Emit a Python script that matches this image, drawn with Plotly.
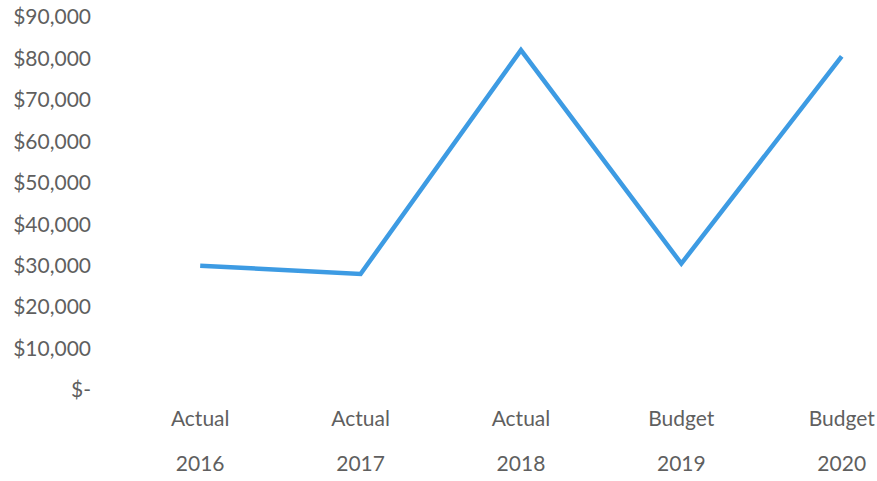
import plotly.graph_objects as go

# Budget vs actual totals by year
scenarios = ["Actual", "Actual", "Actual", "Budget", "Budget"]
years = ["2016", "2017", "2018", "2019", "2020"]
amounts = [30000, 28000, 82000, 30500, 80500]

y_ticks = [0, 10000, 20000, 30000, 40000, 50000, 60000, 70000, 80000, 90000]
y_tick_labels = ["$-", "$10,000", "$20,000", "$30,000", "$40,000",
                 "$50,000", "$60,000", "$70,000", "$80,000", "$90,000"]

positions = list(range(len(years)))
text_color = "#5f5f5f"
label_font = dict(family="Lato, Carlito, sans-serif", size=21, color=text_color)

fig = go.Figure()
fig.add_trace(go.Scatter(
    x=positions, y=amounts, mode="lines",
    line=dict(color="#3D9BE3", width=4.5),
    hoverinfo="y", showlegend=False,
))
# carrier trace for the second (year) label row
fig.add_trace(go.Scatter(
    x=positions, y=amounts, mode="lines", xaxis="x2",
    line=dict(width=0), hoverinfo="skip", showlegend=False,
))

fig.update_layout(
    width=877, height=481,
    margin=dict(l=120, r=0, t=17, b=91),
    paper_bgcolor="white", plot_bgcolor="white",
    xaxis=dict(
        range=[-0.5, 4.22], tickvals=positions, ticktext=scenarios,
        showgrid=False, zeroline=False, showline=False, ticks="",
        tickfont=label_font, ticklabelstandoff=14,
    ),
    xaxis2=dict(
        range=[-0.5, 4.22], tickvals=positions, ticktext=years,
        overlaying="x", side="bottom", anchor="y",
        showgrid=False, zeroline=False, showline=False, ticks="",
        tickfont=label_font, ticklabelstandoff=59,
    ),
    yaxis=dict(
        range=[0, 90000], tickvals=y_ticks, ticktext=y_tick_labels,
        showgrid=False, zeroline=False, showline=False, ticks="",
        tickfont=label_font, ticklabelstandoff=28,
    ),
)

fig.write_html("out.html")
